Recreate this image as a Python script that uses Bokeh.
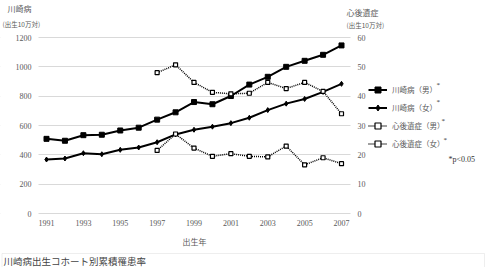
from bokeh.plotting import figure
from bokeh.models import Range1d, LinearAxis, FixedTicker, Legend, LegendItem, Label, BoxAnnotation
from bokeh.embed import file_html
from bokeh.resources import INLINE

# ---- data ----
years = list(range(1991, 2008))
kd_male = [509, 496, 534, 537, 566, 585, 640, 690, 760, 745, 801, 879, 932, 1000, 1041, 1082, 1146]
kd_female = [368, 375, 411, 404, 434, 450, 486, 539, 571, 592, 616, 653, 705, 749, 781, 829, 884]
seq_years = list(range(1997, 2008))
seq_male = [48.0, 50.7, 44.7, 41.3, 40.8, 41.0, 44.7, 42.6, 44.7, 41.6, 34.0]
seq_female = [21.5, 27.1, 22.3, 19.5, 20.4, 19.5, 19.3, 23.0, 16.6, 19.0, 17.0]
left_ticks = [0, 200, 400, 600, 800, 1000, 1200]
right_ticks = [0, 10, 20, 30, 40, 50, 60]
x_ticks = [1991, 1993, 1995, 1997, 1999, 2001, 2003, 2005, 2007]
legend_labels = ["川崎病（男）", "川崎病（女）", "心後遺症（男）", "心後遺症（女）"]

# ---- layout geometry (pixels) ----
W, H = 486, 267
FL, FR, FT, FB = 38, 350, 37, 213          # plotting area inside the canvas
X0, X1, PX0, PX1 = 1991, 2007, 46, 341
YMAX, RMAX = 1200, 60
sx = (PX1 - PX0) / (X1 - X0)

def dx(px):
    return X0 + (px - PX0) / sx

def dy(py):
    return (FB - py) * YMAX / (FB - FT)

JP = "Noto Sans CJK JP"
SERIF = "Liberation Serif"
GRAY = "#595959"

p = figure(width=W, height=H, output_backend="svg", toolbar_location=None,
           x_range=Range1d(dx(0), dx(W)), y_range=Range1d(dy(H), dy(0)),
           min_border=0, x_axis_location=None, y_axis_location=None)
p.outline_line_color = None
p.background_fill_color = "white"
p.border_fill_color = "white"
p.extra_y_ranges = {"right": Range1d(dy(H) * RMAX / YMAX, dy(0) * RMAX / YMAX)}

xaxis = LinearAxis(fixed_location=0, ticker=FixedTicker(ticks=x_ticks), major_label_standoff=6)
laxis = LinearAxis(fixed_location=dx(FL), ticker=FixedTicker(ticks=left_ticks), major_label_standoff=7)
raxis = LinearAxis(fixed_location=dx(FR), y_range_name="right", ticker=FixedTicker(ticks=right_ticks),
                   major_label_standoff=7)
p.add_layout(xaxis, "below")
p.add_layout(laxis, "left")
p.add_layout(raxis, "right")
for ax in (xaxis, laxis, raxis):
    ax.axis_line_color = None
    ax.major_tick_line_color = None
    ax.minor_tick_line_color = None
    ax.major_tick_out = 0
    ax.major_tick_in = 0
    ax.minor_tick_out = 0
    ax.major_label_text_font = SERIF
    ax.major_label_text_font_size = "8px"
    ax.major_label_text_color = GRAY

p.xgrid.grid_line_color = None
p.ygrid.grid_line_color = "#d9d9d9"
p.ygrid.grid_line_width = 1
p.ygrid.ticker = FixedTicker(ticks=left_ticks)
# keep horizontal grid lines inside the plotting area
p.add_layout(BoxAnnotation(right=dx(FL), fill_color="white", fill_alpha=1, line_alpha=0, level="underlay"))
p.add_layout(BoxAnnotation(left=dx(FR), fill_color="white", fill_alpha=1, line_alpha=0, level="underlay"))

# ---- series ----
l1 = p.line(years, kd_male, line_color="black", line_width=2)
m1 = p.scatter(years, kd_male, marker="square", size=5, color="black")
l2 = p.line(years, kd_female, line_color="black", line_width=2)
m2 = p.scatter(years, kd_female, marker="diamond", size=5, color="black")
l3 = p.line(seq_years, seq_male, line_color="black", line_width=1.5, line_dash="1 1", y_range_name="right")
m3 = p.scatter(seq_years, seq_male, marker="square", size=4, fill_color="white", line_color="black",
               line_width=1.2, y_range_name="right")
l4 = p.line(seq_years, seq_female, line_color="black", line_width=1.5, line_dash="1 1", y_range_name="right")
m4 = p.scatter(seq_years, seq_female, marker="square", size=4, fill_color="white", line_color="black",
               line_width=1.2, y_range_name="right")

legend = Legend(items=[LegendItem(label=legend_labels[0], renderers=[l1, m1]),
                       LegendItem(label=legend_labels[1], renderers=[l2, m2]),
                       LegendItem(label=legend_labels[2], renderers=[l3, m3]),
                       LegendItem(label=legend_labels[3], renderers=[l4, m4])],
                location=(368, H - 151), orientation="vertical",
                padding=0, margin=0, spacing=3, label_height=15, glyph_height=15,
                glyph_width=19, label_standoff=5,
                label_text_font=JP, label_text_font_size="7.5px", label_text_color=GRAY,
                background_fill_alpha=0, border_line_color=None)
p.add_layout(legend)

def add_label(text, px, py, size, font=JP, color=GRAY, align="left"):
    p.add_layout(Label(x=dx(px), y=dy(py), text=text, text_font=font, text_font_size=size,
                       text_color=color, text_align=align, text_baseline="middle"))

add_label("川崎病", 7, 8, "8px")
add_label("(出生10万対)", 2, 23, "6.5px")
add_label("心後遺症", 346, 12, "8px")
add_label("(出生10万対)", 346, 24, "6.5px")
add_label("出生年", 194, 241, "8px", align="center")
add_label("*p<0.05", 448, 159, "8px", font=SERIF, color="#333333")
for ax_, ay_ in [(436, 84), (436, 101), (441, 120), (443, 139)]:
    add_label("*", ax_, ay_, "7px", font=SERIF, color="#333333")

p.add_layout(BoxAnnotation(left=dx(1.5), right=dx(484), top=dy(253), bottom=dy(290),
                           fill_alpha=0, line_color="#c8c8c8", line_width=1))
add_label("川崎病出生コホート別累積罹患率", 3, 260.5, "9.5px", color="#444444")

open("out.html", "w").write(file_html(p, INLINE))
